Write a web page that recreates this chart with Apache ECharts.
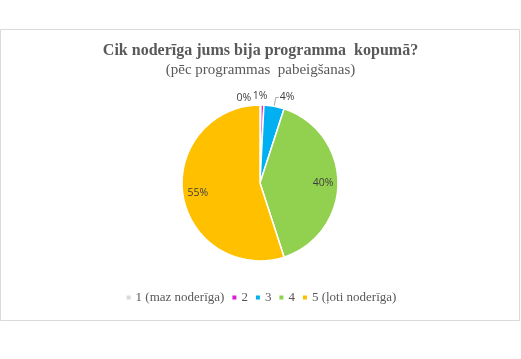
<!DOCTYPE html>
<html><head><meta charset="utf-8">
<script src="https://cdn.jsdelivr.net/npm/echarts@6/dist/echarts.min.js"></script>
<style>html,body{margin:0;padding:0;background:#fff}#c{width:521px;height:359px}</style>
</head><body><div id="c"></div>
<script>
const categories = ['1 (maz noderīga)', '2', '3', '4', '5 (ļoti noderīga)'];
const values = [0.2, 0.6, 4.2, 40, 55];
const colors = ['#d9d9d9', '#e01ad6', '#00b0f0', '#92d050', '#ffc000'];
const titleText = 'Cik noderīga jums bija programma  kopumā?';
const subText = '(pēc programmas  pabeigšanas)';

const fmt = p => Math.round(p.value) + '%';
const chart = echarts.init(document.getElementById('c'));
const small = [
  {offset: [-28, 2], line: false},
  {offset: [-14, 0], line: false},
  {offset: [0, 0], line: true}
];
chart.setOption({
  animation: false,
  graphic: [{type: 'rect', shape: {x: 0.5, y: 29.5, width: 519, height: 291}, style: {fill: 'none', stroke: '#d9d9d9', lineWidth: 1}}],
  title: [
    {text: titleText, left: 'center', top: 38, textStyle: {fontFamily: 'Liberation Serif', fontWeight: 'bold', fontSize: 16, color: '#595959'}},
    {text: subText, left: 'center', top: 58, textStyle: {fontFamily: 'Liberation Serif', fontWeight: 'normal', fontSize: 15, color: '#595959'}}
  ],
  legend: {
    bottom: 50, left: 'center', itemWidth: 6, itemHeight: 6, itemGap: 6, icon: 'rect',
    textStyle: {fontFamily: 'Liberation Serif', fontSize: 13, color: '#595959', padding: [0, 0, 0, -1]},
    data: categories
  },
  color: colors,
  series: [
    {
      type: 'pie', center: [260, 183], radius: [0, 78], startAngle: 90, clockwise: true,
      avoidLabelOverlap: false, minShowLabelAngle: 0,
      itemStyle: {borderColor: '#fff', borderWidth: 1.5},
      label: {show: false},
      labelLine: {show: true, length: 9, length2: 3, lineStyle: {color: '#a6a6a6', width: 1}},
      data: categories.map((c, i) => {
        const d = {name: c, value: values[i]};
        if (i < 3) {
          d.label = {show: true, position: 'outside', formatter: fmt, fontFamily: 'Open Sans', fontSize: 10.5, color: '#404040', offset: small[i].offset, distanceToLabelLine: 1};
          d.labelLine = {show: small[i].line};
        } else {
          d.labelLine = {show: false};
        }
        return d;
      })
    },
    {
      type: 'pie', center: [260, 183], radius: [40, 80], startAngle: 90, clockwise: true, silent: true,
      itemStyle: {color: 'transparent', borderWidth: 0},
      legendHoverLink: false,
      label: {show: false},
      labelLine: {show: false},
      data: categories.map((c, i) => {
        const d = {name: 'lbl' + i, value: values[i]};
        if (i >= 3) d.label = {show: true, position: 'inside', formatter: fmt, fontFamily: 'Open Sans', fontSize: 10.5, color: '#404040'};
        return d;
      })
    }
  ]
});
</script></body></html>
